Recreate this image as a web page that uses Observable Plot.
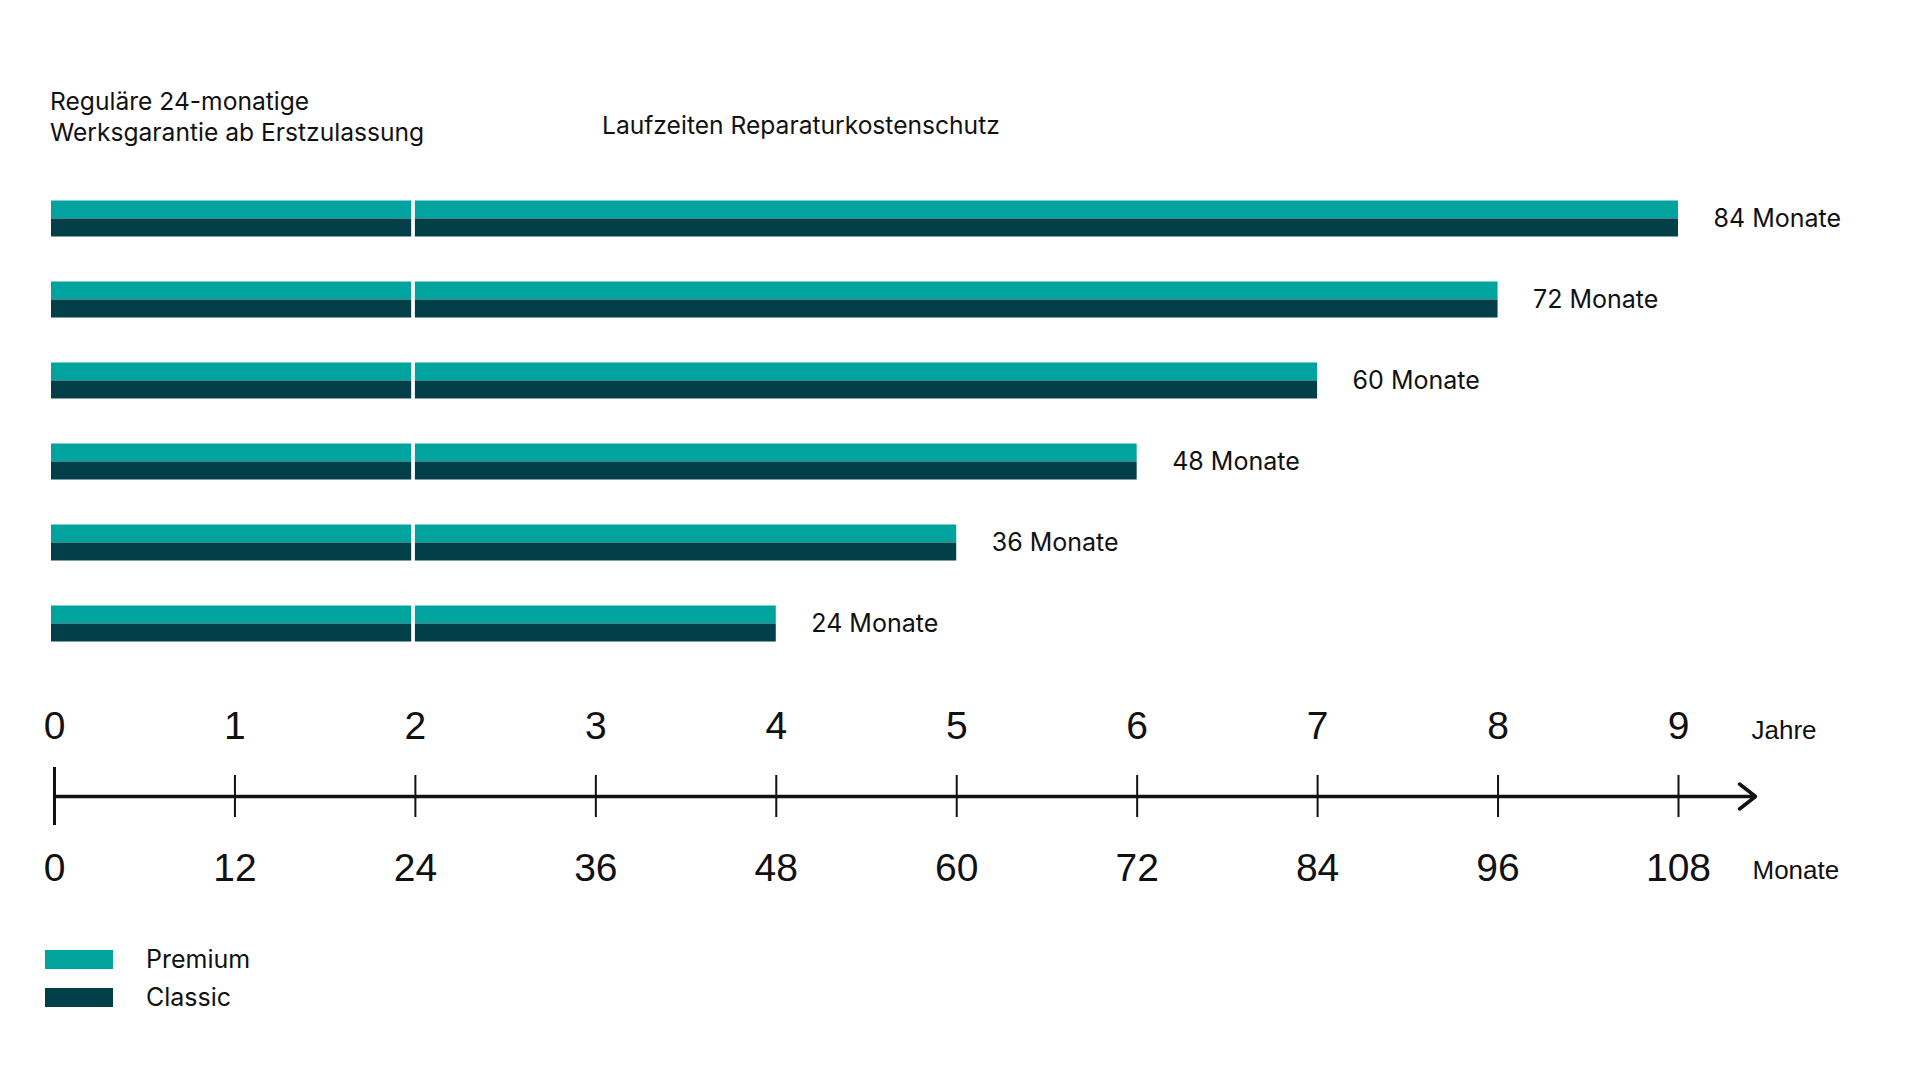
<!DOCTYPE html>
<html>
<head>
<meta charset="utf-8">
<script src="https://cdn.jsdelivr.net/npm/d3@7"></script>
<script src="https://cdn.jsdelivr.net/npm/@observablehq/plot@0.6"></script>
<style>
  html, body { margin: 0; padding: 0; background: #ffffff; }
  #page { position: relative; width: 1920px; height: 1080px; overflow: hidden; font-family: Inter, "Noto Sans", sans-serif; color: #111111; }
  .abs { position: absolute; }
  .hdr { font-size: 24.6px; line-height: 30.5px; white-space: nowrap; }
  #chartA { left: 0; top: 0; }
  #chartB { left: 0; top: 680px; }
  #legend { left: 45px; top: 950px; display: flex; flex-direction: column; gap: 19px; }
  .lg-row { display: flex; align-items: center; height: 19px; }
  .lg-sw { width: 68px; height: 19px; }
  .lg-tx { font-size: 25px; margin-left: 33px; line-height: 19px; }
</style>
</head>
<body>
<div id="page">
  <div class="abs hdr" style="left:50px; top:86px;">Reguläre 24-monatige<br>Werksgarantie ab Erstzulassung</div>
  <div class="abs hdr" style="left:602px; top:110px;">Laufzeiten Reparaturkostenschutz</div>
  <div id="chartA" class="abs"></div>
  <div id="chartB" class="abs"></div>
  <div id="legend" class="abs"></div>
</div>
<script>
// ---- Daten ----
const laufzeiten = [84, 72, 60, 48, 36, 24];          // Monate Reparaturkostenschutz
const werksgarantie = 24;                              // Monate Werksgarantie
const tarife = ["Premium", "Classic"];
const farben = ["#00a39d", "#023f48"];
const monateTicks = [0, 12, 24, 36, 48, 60, 72, 84, 96, 108];
const jahreLabels = [0, 1, 2, 3, 4, 5, 6, 7, 8, 9];

// Tabelle der Balkensegmente
const segmente = [];
for (const d of laufzeiten) {
  for (const t of tarife) {
    segmente.push({laufzeit: d, tarif: t, teil: "Werksgarantie", von: 0, bis: werksgarantie});
    segmente.push({laufzeit: d, tarif: t, teil: "Schutz", von: werksgarantie, bis: werksgarantie + d});
  }
}

const W = 1920, ML = 54, MR = 242;
const xDomain = [monateTicks[0], monateTicks[monateTicks.length - 1]];
const ink = "#111111";

const chartA = Plot.plot({
  width: W, height: 680,
  marginTop: 199.5, marginBottom: 38.5, marginLeft: ML, marginRight: MR,
  x: {domain: xDomain, axis: null},
  y: {domain: tarife, padding: 0, axis: null},
  fy: {domain: laufzeiten, paddingInner: 0.55, paddingOuter: 0, axis: null},
  color: {domain: tarife, range: farben},
  style: {background: "transparent", overflow: "visible"},
  marks: [
    Plot.barX(segmente.filter(s => s.teil === "Werksgarantie"), {
      fy: "laufzeit", y: "tarif", x1: "von", x2: "bis", fill: "tarif",
      insetRight: 3.7, insetLeft: -3
    }),
    Plot.barX(segmente.filter(s => s.teil === "Schutz"), {
      fy: "laufzeit", y: "tarif", x1: "von", x2: "bis", fill: "tarif"
    }),
    Plot.text(laufzeiten, {
      fy: d => d, x: d => werksgarantie + d, text: d => `${d} Monate`,
      textAnchor: "start", dx: 35, fontSize: 25, fill: ink,
      fontFamily: "Inter, 'Noto Sans', sans-serif"
    })
  ]
});
document.getElementById("chartA").appendChild(chartA);

const axisFont = "'Liberation Sans', Arial, sans-serif";
const chartB = Plot.plot({
  width: W, height: 240,
  marginTop: 95, marginBottom: 103, marginLeft: ML, marginRight: MR,
  x: {domain: xDomain, axis: null},
  y: {domain: [-1, 1], axis: null},
  style: {background: "transparent", overflow: "visible"},
  marks: [
    Plot.axisX(monateTicks, {
      anchor: "top", tickSize: 0, tickPadding: 37,
      tickFormat: (d, i) => String(jahreLabels[i]),
      fontSize: 39, fontFamily: axisFont, fill: ink
    }),
    Plot.axisX(monateTicks, {
      anchor: "bottom", tickSize: 0, tickPadding: 35.5,
      tickFormat: d => String(d),
      fontSize: 39, fontFamily: axisFont, fill: ink
    }),
    Plot.tickX(monateTicks.slice(1), {x: d => d, stroke: ink, strokeWidth: 2}),
    Plot.tickX(monateTicks.slice(0, 1), {x: d => d, stroke: ink, strokeWidth: 3, insetTop: -8, insetBottom: -8}),
    Plot.arrow([{von: xDomain[0], bis: xDomain[1], y: 0}], {
      x1: "von", x2: "bis", y1: "y", y2: "y",
      stroke: ink, strokeWidth: 3.5, headAngle: 76, headLength: 8.7, insetEnd: -77
    }),
    Plot.text(["Jahre"], {
      frameAnchor: "top-right", textAnchor: "start", lineAnchor: "bottom",
      dx: 73, dy: -37, fontSize: 26, fontFamily: axisFont, fill: ink
    }),
    Plot.text(["Monate"], {
      frameAnchor: "bottom-right", textAnchor: "start", lineAnchor: "bottom",
      dx: 74, dy: 61, fontSize: 26, fontFamily: axisFont, fill: ink
    })
  ]
});
document.getElementById("chartB").appendChild(chartB);

// Legende
const legend = document.getElementById("legend");
tarife.forEach((t, i) => {
  const row = document.createElement("div");
  row.className = "lg-row";
  const sw = document.createElement("div");
  sw.className = "lg-sw";
  sw.style.background = farben[i];
  const tx = document.createElement("div");
  tx.className = "lg-tx";
  tx.textContent = t;
  row.appendChild(sw); row.appendChild(tx);
  legend.appendChild(row);
});
</script>
</body>
</html>
